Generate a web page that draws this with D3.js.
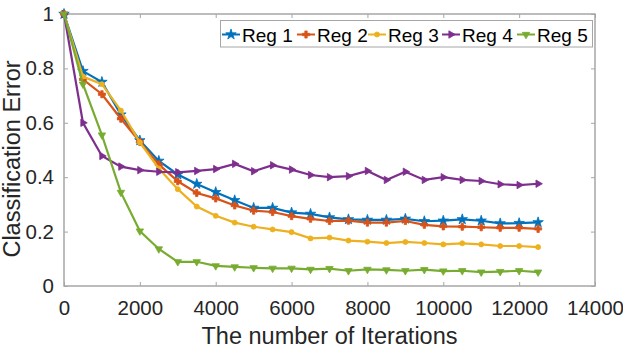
<!DOCTYPE html>
<html>
<head>
<meta charset="utf-8">
<script src="https://cdn.jsdelivr.net/npm/d3@7"></script>
<style>
  body { margin: 0; background: #fff; }
  svg { font-family: "Liberation Sans", Arial, sans-serif; }
</style>
</head>
<body>
<div id="chart"></div>
<script>
// iterations, every 500 steps
const iterations = d3.range(0, 12501, 500);

const reg1 = [1, 0.79, 0.75, 0.63, 0.535, 0.46, 0.41, 0.375, 0.345, 0.315, 0.287, 0.287, 0.27, 0.265, 0.252, 0.245, 0.243, 0.243, 0.247, 0.238, 0.24, 0.245, 0.24, 0.23, 0.231, 0.234];
const reg2 = [1, 0.76, 0.705, 0.615, 0.53, 0.447, 0.385, 0.342, 0.322, 0.296, 0.277, 0.272, 0.257, 0.247, 0.239, 0.24, 0.233, 0.233, 0.239, 0.225, 0.219, 0.218, 0.216, 0.214, 0.214, 0.21];
const reg3 = [1, 0.77, 0.742, 0.645, 0.528, 0.432, 0.356, 0.292, 0.258, 0.233, 0.218, 0.208, 0.198, 0.175, 0.178, 0.167, 0.163, 0.158, 0.162, 0.158, 0.153, 0.157, 0.153, 0.147, 0.147, 0.143];
const reg4 = [1, 0.6, 0.478, 0.439, 0.426, 0.42, 0.418, 0.423, 0.43, 0.449, 0.422, 0.444, 0.428, 0.408, 0.4, 0.404, 0.423, 0.39, 0.42, 0.39, 0.4, 0.39, 0.386, 0.374, 0.371, 0.376];
const reg5 = [1, 0.742, 0.555, 0.344, 0.202, 0.136, 0.089, 0.089, 0.074, 0.07, 0.067, 0.065, 0.065, 0.061, 0.064, 0.056, 0.061, 0.059, 0.056, 0.06, 0.055, 0.056, 0.051, 0.053, 0.056, 0.051];

const seriesNames = ["Reg 1", "Reg 2", "Reg 3", "Reg 4", "Reg 5"];
const seriesColors = ["#0072BD", "#D95319", "#EDB120", "#7E2F8E", "#77AC30"];
const xTicks = [0, 2000, 4000, 6000, 8000, 10000, 12000, 14000];
const yTicks = [0, 0.2, 0.4, 0.6, 0.8, 1];

const width = 623, height = 350;
const margin = { top: 14, right: 28, bottom: 64, left: 64 };

const svg = d3.select("#chart").append("svg")
  .attr("width", width)
  .attr("height", height);

const x = d3.scaleLinear().domain([0, 14000]).range([margin.left, width - margin.right]);
const y = d3.scaleLinear().domain([0, 1]).range([height - margin.bottom, margin.top]);

const axisColor = "#a6a6a6";
const textColor = "#262626";

// box
svg.append("rect")
  .attr("x", x(0)).attr("y", y(1))
  .attr("width", x(14000) - x(0)).attr("height", y(0) - y(1))
  .attr("fill", "none").attr("stroke", axisColor).attr("stroke-width", 1.5);

// axes with inward ticks
function styleAxis(g) {
  g.select(".domain").remove();
  g.selectAll(".tick line").attr("stroke", axisColor).attr("stroke-width", 1);
  g.selectAll(".tick text").attr("fill", textColor).style("font-size", "20.5px");
}

svg.append("g")
  .attr("transform", `translate(0,${y(0)})`)
  .call(d3.axisBottom(x).tickValues(xTicks).tickFormat(d3.format("d")).tickSizeInner(-4).tickPadding(14))
  .call(styleAxis);

svg.append("g")
  .attr("transform", `translate(0,${y(1)})`)
  .call(d3.axisTop(x).tickValues(xTicks).tickFormat("").tickSizeInner(-4))
  .call(styleAxis);

svg.append("g")
  .attr("transform", `translate(${x(0)},0)`)
  .call(d3.axisLeft(y).tickValues(yTicks).tickFormat(d => d === 0 || d === 1 ? d : d3.format(".1f")(d)).tickSizeInner(-4).tickPadding(10))
  .call(styleAxis);

svg.append("g")
  .attr("transform", `translate(${x(14000)},0)`)
  .call(d3.axisRight(y).tickValues(yTicks).tickFormat("").tickSizeInner(-4))
  .call(styleAxis);

// axis titles
svg.append("text")
  .attr("x", (x(0) + x(14000)) / 2)
  .attr("y", 344)
  .attr("text-anchor", "middle")
  .attr("fill", textColor)
  .style("font-size", "23.5px")
  .text("The number of Iterations");

svg.append("text")
  .attr("transform", `translate(20,159) rotate(-90)`)
  .attr("text-anchor", "middle")
  .attr("fill", textColor)
  .style("font-size", "23.5px")
  .text("Classification Error");

// markers per series
const markers = [
  d3.symbol().type(d3.symbolStar).size(34),
  d3.symbol().type(d3.symbolCross).size(28),
  d3.symbol().type(d3.symbolCircle).size(20),
  d3.symbol().type(d3.symbolTriangle).size(24),
  d3.symbol().type(d3.symbolTriangle).size(24)
];
const markerRotate = [0, 0, 0, 90, 180];

const allSeries = [reg1, reg2, reg3, reg4, reg5];

const line = d3.line()
  .x((d, i) => x(iterations[i]))
  .y(d => y(d));

allSeries.forEach((vals, s) => {
  svg.append("path")
    .datum(vals)
    .attr("fill", "none")
    .attr("stroke", seriesColors[s])
    .attr("stroke-width", 2.2)
    .attr("d", line);

  svg.append("g").selectAll("path")
    .data(vals)
    .enter().append("path")
    .attr("d", markers[s])
    .attr("transform", (d, i) => `translate(${x(iterations[i])},${y(d)}) rotate(${markerRotate[s]})`)
    .attr("fill", seriesColors[s])
    .attr("stroke", seriesColors[s])
    .attr("stroke-width", 0.8);
});

// legend
const legend = svg.append("g");
legend.append("rect")
  .attr("x", 220.5).attr("y", 20.5)
  .attr("width", 372).attr("height", 26.5)
  .attr("fill", "#fff").attr("stroke", axisColor).attr("stroke-width", 1);

const legendX = [222, 297, 368, 442, 517];
seriesNames.forEach((name, s) => {
  const gx = legendX[s];
  const gy = 34.5;
  legend.append("line")
    .attr("x1", gx).attr("x2", gx + 18)
    .attr("y1", gy).attr("y2", gy)
    .attr("stroke", seriesColors[s]).attr("stroke-width", 2);
  legend.append("path")
    .attr("d", markers[s])
    .attr("transform", `translate(${gx + 9},${gy}) rotate(${markerRotate[s]})`)
    .attr("fill", seriesColors[s])
    .attr("stroke", seriesColors[s])
    .attr("stroke-width", 0.8);
  legend.append("text")
    .attr("x", gx + 20).attr("y", 42)
    .attr("fill", "#000")
    .style("font-size", "19px")
    .text(name);
});
</script>
</body>
</html>
